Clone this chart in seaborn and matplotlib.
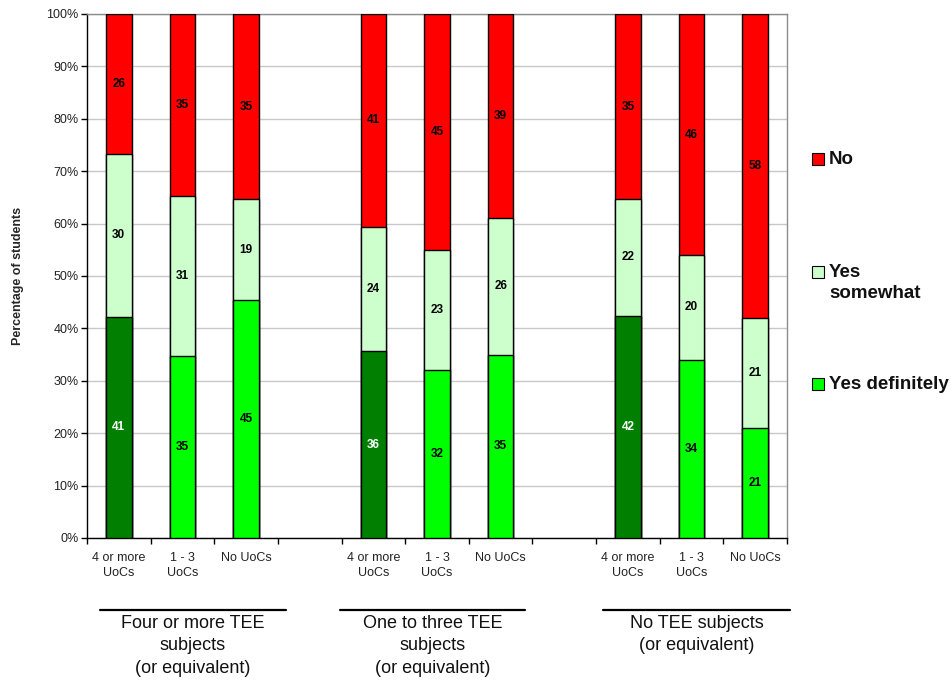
import numpy as np
import pandas as pd
import matplotlib
matplotlib.use("Agg")
import matplotlib.pyplot as plt
from matplotlib.patches import Rectangle
import matplotlib.transforms as mtransforms
import seaborn as sns

# Survey counts per sub-group
groups = ["Four or more TEE\nsubjects\n(or equivalent)",
          "One to three TEE\nsubjects\n(or equivalent)",
          "No TEE subjects\n(or equivalent)"]
uoc_labels = ["4 or more\nUoCs", "1 - 3\nUoCs", "No UoCs"]
yes_definitely = [41, 35, 45, 36, 32, 35, 42, 34, 21]
yes_somewhat = [30, 31, 19, 24, 23, 26, 22, 20, 21]
no = [26, 35, 35, 41, 45, 39, 35, 46, 58]
series_names = ["No", "Yes\nsomewhat", "Yes definitely"]

RED = "#FF0000"
LIGHT = "#CCFFCC"
BRIGHT = "#00FF00"
DARK = "#007F00"

sns.set_theme(style="white")
plt.rcParams["font.family"] = ["Liberation Sans", "DejaVu Sans"]

# Build the table: one row per bar, with blank slots between the groups
keys, tick_text = [], []
order = []
for gi in range(3):
    for ui in range(3):
        k = f"g{gi}u{ui}"
        keys.append(k)
        order.append(k)
        tick_text.append(uoc_labels[ui])
    if gi < 2:
        order.append(f"gap{gi}")

df = pd.DataFrame({
    "bar": keys,
    "yes_def": yes_definitely,
    "yes_some": yes_somewhat,
    "no": no,
})
df["total"] = df[["yes_def", "yes_some", "no"]].sum(axis=1)
df["p_def"] = df["yes_def"] / df["total"] * 100
df["p_some"] = df["yes_some"] / df["total"] * 100
df["p_no"] = df["no"] / df["total"] * 100
df["cum_def"] = df["p_def"]
df["cum_some"] = df["p_def"] + df["p_some"]
df["cum_no"] = df["cum_some"] + df["p_no"]
df["first_in_group"] = [k.endswith("u0") for k in df["bar"]]

fig = plt.figure(figsize=(9.52, 6.81), dpi=100)
ax = fig.add_axes([87 / 952, 143 / 681, 700 / 952, 524 / 681])

bar_kw = dict(order=order, width=0.4, edgecolor="black", linewidth=1.0,
              saturation=1, ax=ax, zorder=3)

# Layers are drawn tallest first so each one covers the part below it
sns.barplot(data=df, x="bar", y="cum_no", color=RED, **bar_kw)
sns.barplot(data=df, x="bar", y="cum_some", color=LIGHT, **bar_kw)
bottom_palette = {k: (DARK if f else BRIGHT) for k, f in zip(df["bar"], df["first_in_group"])}
sns.barplot(data=df, x="bar", y="cum_def", hue="bar", palette=bottom_palette,
            legend=False, **bar_kw)

# Count labels in the middle of each segment
for _, r in df.iterrows():
    xi = order.index(r["bar"])
    segs = [
        (r["p_def"] / 2, r["yes_def"], "white" if r["first_in_group"] else "black"),
        (r["p_def"] + r["p_some"] / 2, r["yes_some"], "black"),
        (r["cum_some"] + r["p_no"] / 2, r["no"], "black"),
    ]
    for y, val, c in segs:
        ax.text(xi, y, f"{int(val)}", ha="center", va="center", fontsize=8.5,
                fontweight="bold", color=c, zorder=5)

# Axes styling
ax.set_xlim(-0.5, len(order) - 0.5)
ax.set_ylim(0, 100)
ax.set_yticks(np.arange(0, 101, 10))
ax.set_yticklabels([f"{v}%" for v in range(0, 101, 10)], fontsize=9, color="#222222")
ax.yaxis.grid(True, color="#C8C8C8", linewidth=1.0, zorder=0)
ax.set_axisbelow(True)
ax.tick_params(axis="y", which="major", length=4, width=1, color="black", pad=2, left=True)

boundaries = np.arange(-0.5, len(order), 1.0)
ax.set_xticks(boundaries)
ax.set_xticklabels([""] * len(boundaries))
ax.tick_params(axis="x", which="major", length=4, width=1, color="black", bottom=True)
centers = [order.index(k) for k in keys]
ax.set_xticks(centers, minor=True)
ax.set_xticklabels(tick_text, minor=True, fontsize=9, color="#222222", linespacing=1.35)
ax.tick_params(axis="x", which="minor", length=0, pad=10)

ax.set_xlabel("")
ax.set_ylabel("Percentage of students", fontsize=9, fontweight="bold", labelpad=16)

for side in ["left", "bottom"]:
    ax.spines[side].set_color("black")
    ax.spines[side].set_linewidth(1.0)
for side in ["top", "right"]:
    ax.spines[side].set_visible(True)
    ax.spines[side].set_color("#8C8C8C")
    ax.spines[side].set_linewidth(1.0)

# Group captions with rules above them
def px_to_x(px):
    return (px - 87) / (700 / len(order)) - 0.5

trans = mtransforms.blended_transform_factory(ax.transData, ax.transAxes)
rule_spans = [(100, 286), (340, 525), (603, 790)]
rule_y = (538 - 609.5) / 524
text_y = (538 - 615) / 524
for (a, b), g in zip(rule_spans, groups):
    x0, x1 = px_to_x(a), px_to_x(b)
    ax.plot([x0, x1], [rule_y, rule_y], color="black", linewidth=1.6,
            transform=trans, clip_on=False)
    ax.text((x0 + x1) / 2, text_y, g, transform=trans, ha="center", va="top",
            fontsize=13, linespacing=1.42, color="#111111")

# Legend: swatch beside the first line of each entry
legend_colors = [RED, LIGHT, BRIGHT]
swatch_y = [159, 272, 384]          # pixel rows of the swatch centres
H = 681.0
for name, col, yc in zip(series_names, legend_colors, swatch_y):
    fig.patches.append(Rectangle((812 / 952, (H - yc - 6) / H), 12 / 952, 12 / H,
                                 facecolor=col, edgecolor="black", linewidth=0.8,
                                 transform=fig.transFigure, figure=fig))
    fig.text(829 / 952, (H - yc + 8) / H, name, ha="left", va="top",
             fontsize=13.5, fontweight="bold", color="#111111", linespacing=1.31)

fig.savefig("out.png", dpi=100)
